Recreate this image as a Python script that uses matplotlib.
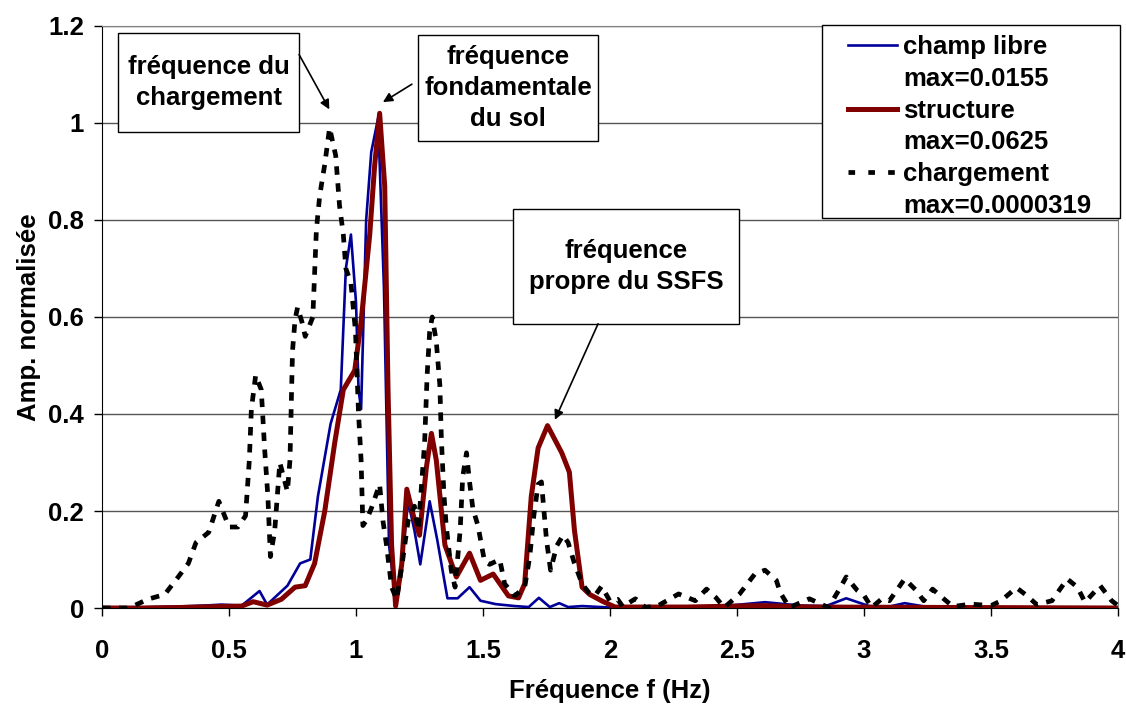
import matplotlib.pyplot as plt
from matplotlib.lines import Line2D

plt.rcParams['font.family'] = ['Liberation Sans', 'DejaVu Sans']
plt.rcParams['font.weight'] = 'bold'

# champ libre (normalised spectrum)
f_libre = [0, 0.10, 0.20, 0.30, 0.40, 0.47, 0.55, 0.62, 0.65, 0.73, 0.78, 0.82, 0.85, 0.90,
           0.94, 0.96, 0.98, 1.0, 1.01, 1.02, 1.04, 1.06, 1.087, 1.11, 1.13, 1.156, 1.18,
           1.205, 1.23, 1.253, 1.29, 1.32, 1.36, 1.40, 1.447, 1.49, 1.55, 1.625, 1.68, 1.72,
           1.763, 1.80, 1.835, 1.89, 2.0, 2.2, 2.45, 2.61, 2.75, 2.85, 2.93, 3.02, 3.1,
           3.16, 3.25, 3.4, 4.0]
a_libre = [0, 0, 0.002, 0.003, 0.005, 0.007, 0.005, 0.035, 0.007, 0.046, 0.092, 0.10, 0.23,
           0.38, 0.45, 0.70, 0.77, 0.63, 0.45, 0.41, 0.80, 0.94, 1.01, 0.66, 0.13, 0.015,
           0.09, 0.22, 0.16, 0.09, 0.22, 0.14, 0.02, 0.02, 0.043, 0.015, 0.008, 0.004, 0.002,
           0.021, 0.002, 0.01, 0.002, 0.004, 0.001, 0.001, 0.004, 0.012, 0.005, 0.004, 0.02,
           0.004, 0.003, 0.01, 0.002, 0.001, 0]

# structure
f_struct = [0, 0.15, 0.3, 0.45, 0.55, 0.595, 0.65, 0.706, 0.76, 0.80, 0.837, 0.877, 0.916,
            0.95, 0.995, 1.02, 1.054, 1.073, 1.093, 1.113, 1.126, 1.14, 1.156, 1.18, 1.20,
            1.226, 1.25, 1.277, 1.297, 1.316, 1.35, 1.395, 1.447, 1.49, 1.54, 1.60, 1.64,
            1.664, 1.69, 1.717, 1.754, 1.78, 1.81, 1.84, 1.86, 1.89, 1.92, 1.97, 2.02, 2.3,
            2.6, 2.8, 4.0]
a_struct = [0, 0, 0.001, 0.003, 0.004, 0.013, 0.006, 0.018, 0.043, 0.046, 0.092, 0.20, 0.34,
            0.45, 0.49, 0.59, 0.77, 0.91, 1.02, 0.87, 0.45, 0.13, 0.004, 0.09, 0.245, 0.19,
            0.15, 0.29, 0.36, 0.305, 0.13, 0.064, 0.113, 0.057, 0.07, 0.025, 0.021, 0.05,
            0.23, 0.33, 0.376, 0.35, 0.32, 0.28, 0.16, 0.043, 0.028, 0.014, 0.002, 0.002,
            0.005, 0.002, 0]

# chargement
f_charge = [0, 0.10, 0.115, 0.18, 0.247, 0.30, 0.34, 0.37, 0.42, 0.46, 0.50, 0.535, 0.565,
            0.58, 0.588, 0.605, 0.627, 0.64, 0.653, 0.663, 0.68, 0.69, 0.70, 0.73, 0.74,
            0.745, 0.75, 0.76, 0.77, 0.787, 0.80, 0.83, 0.844, 0.857, 0.877, 0.896, 0.92,
            0.935, 0.95, 0.96, 0.98, 0.998, 1.01, 1.02, 1.027, 1.04, 1.06, 1.093, 1.106,
            1.12, 1.14, 1.16, 1.18, 1.205, 1.23, 1.245, 1.27, 1.28, 1.29, 1.30, 1.316,
            1.33, 1.336, 1.346, 1.355, 1.375, 1.39, 1.41, 1.42, 1.435, 1.447, 1.46, 1.48,
            1.506, 1.526, 1.566, 1.585, 1.625, 1.664, 1.684, 1.70, 1.717, 1.73, 1.74, 1.75,
            1.766, 1.79, 1.815, 1.835, 1.86, 1.89, 1.916, 1.94, 1.967, 2.0, 2.03, 2.05,
            2.10, 2.14, 2.19, 2.27, 2.336, 2.38, 2.416, 2.45, 2.51, 2.57, 2.61, 2.655,
            2.67, 2.706, 2.785, 2.86, 2.90, 2.93, 2.974, 3.0, 3.03, 3.07, 3.10, 3.16,
            3.206, 3.235, 3.27, 3.307, 3.35, 3.42, 3.5, 3.54, 3.60, 3.64, 3.68, 3.74,
            3.80, 3.84, 3.87, 3.93, 3.975, 4.0]
a_charge = [0, 0, 0.002, 0.018, 0.028, 0.064, 0.092, 0.135, 0.156, 0.22, 0.167, 0.167, 0.19,
            0.305, 0.41, 0.48, 0.45, 0.33, 0.23, 0.106, 0.16, 0.23, 0.30, 0.24, 0.305,
            0.42, 0.53, 0.595, 0.62, 0.59, 0.56, 0.60, 0.78, 0.85, 0.915, 0.99, 0.933,
            0.83, 0.77, 0.70, 0.67, 0.57, 0.40, 0.305, 0.17, 0.18, 0.205, 0.255, 0.18,
            0.13, 0.043, 0.018, 0.085, 0.18, 0.21, 0.16, 0.34, 0.48, 0.57, 0.60, 0.55,
            0.46, 0.35, 0.235, 0.17, 0.078, 0.043, 0.16, 0.27, 0.32, 0.26, 0.205, 0.17,
            0.096, 0.09, 0.10, 0.05, 0.025, 0.043, 0.106, 0.19, 0.255, 0.26, 0.20, 0.14,
            0.078, 0.128, 0.15, 0.135, 0.092, 0.05, 0.032, 0.025, 0.045, 0.014, 0.018, 0.003,
            0.019, 0.001, 0.005, 0.029, 0.015, 0.039, 0.022, 0.001, 0.029, 0.07, 0.078, 0.057,
            0.032, 0.001, 0.019, 0.001, 0.036, 0.064, 0.036, 0.026, 0.001, 0.019, 0.015, 0.06,
            0.036, 0.015, 0.039, 0.022, 0.003, 0.008, 0.005, 0.015, 0.042, 0.026, 0.007, 0.015,
            0.06, 0.043, 0.012, 0.046, 0.015, 0.005]

names = ["champ libre", "structure", "chargement"]
maxima = ["max=0.0155", "max=0.0625", "max=0.0000319"]
x_ticks = [0, 0.5, 1, 1.5, 2, 2.5, 3, 3.5, 4]
y_ticks = [0, 0.2, 0.4, 0.6, 0.8, 1, 1.2]

FS = 18.5

fig = plt.figure(figsize=(11.26, 7.06), dpi=100)
ax = fig.add_axes([0.0906, 0.1388, 0.9023, 0.8244])

ax.plot(f_libre, a_libre, color='#000099', lw=1.9, zorder=3)
ax.plot(f_struct, a_struct, color='#800000', lw=3.6, zorder=4)
ax.plot(f_charge, a_charge, color='black', lw=3.4, dashes=(1.8, 1.8), zorder=5)

ax.set_xlim(0, 4)
ax.set_ylim(0, 1.2)
ax.set_xticks(x_ticks)
ax.set_xticklabels([f"{v:g}" for v in x_ticks])
ax.set_yticks(y_ticks)
ax.set_yticklabels([f"{v:g}" for v in y_ticks])
ax.tick_params(labelsize=FS, direction='out', length=6, width=1)
ax.tick_params(axis='x', pad=16)
ax.tick_params(axis='y', pad=7)
ax.yaxis.grid(True, color='#555555', lw=1)
ax.set_axisbelow(True)
for s in ['top', 'right']:
    ax.spines[s].set_color('#808080')
ax.spines['left'].set_color('black')
ax.spines['bottom'].set_color('black')

ax.set_xlabel("Fréquence f (Hz)", fontsize=FS, fontweight='bold', labelpad=12)
ax.set_ylabel("Amp. normalisée", fontsize=FS, fontweight='bold', labelpad=5)

# annotation boxes
boxes = [
    ((0.063, 0.981), 0.713, 0.205, "fréquence du\nchargement"),
    ((1.244, 0.963), 0.709, 0.218, "fréquence\nfondamentale\ndu sol"),
    ((1.618, 0.586), 0.890, 0.237, "fréquence\npropre du SSFS"),
]
for (x0, y0), w, h, txt in boxes:
    ax.add_patch(plt.Rectangle((x0, y0), w, h, facecolor='white', edgecolor='black',
                               lw=1, zorder=6, clip_on=False))
    ax.text(x0 + w / 2, y0 + h / 2, txt, ha='center', va='center', fontsize=FS,
            fontweight='bold', linespacing=1.38, zorder=7)

arrows = [((0.776, 1.141), (0.895, 1.028)),
          ((1.22, 1.08), (1.106, 1.043)),
          ((1.953, 0.586), (1.783, 0.388))]
for start, end in arrows:
    ax.annotate("", xy=end, xytext=start, zorder=8,
                arrowprops=dict(arrowstyle='-|>', color='black', lw=1.2, mutation_scale=14,
                                shrinkA=0, shrinkB=0))

# legend: frame drawn separately, handle beside first line of each label
ax.add_patch(plt.Rectangle((0.7087, 0.670), 0.2933, 0.332, transform=ax.transAxes,
                           facecolor='white', edgecolor='black', lw=1, zorder=8.5,
                           clip_on=False))
series_handles = [Line2D([], [], color='#000099', lw=1.9),
                  Line2D([], [], color='#800000', lw=3.6),
                  Line2D([], [], color='black', lw=3.4, dashes=(1.4, 2.8))]
handles, texts = [], []
for h, n, m in zip(series_handles, names, maxima):
    handles += [h, Line2D([], [], color='none')]
    texts += [n, m]
leg = ax.legend(handles, texts, loc='upper left', bbox_to_anchor=(0.734, 0.984),
                fontsize=FS, frameon=False, handlelength=1.9, handletextpad=0.25,
                labelspacing=0.30, borderpad=0, borderaxespad=0)
leg.set_zorder(9)
for t in leg.get_texts():
    t.set_fontweight('bold')

fig.savefig("out.png", dpi=100)
